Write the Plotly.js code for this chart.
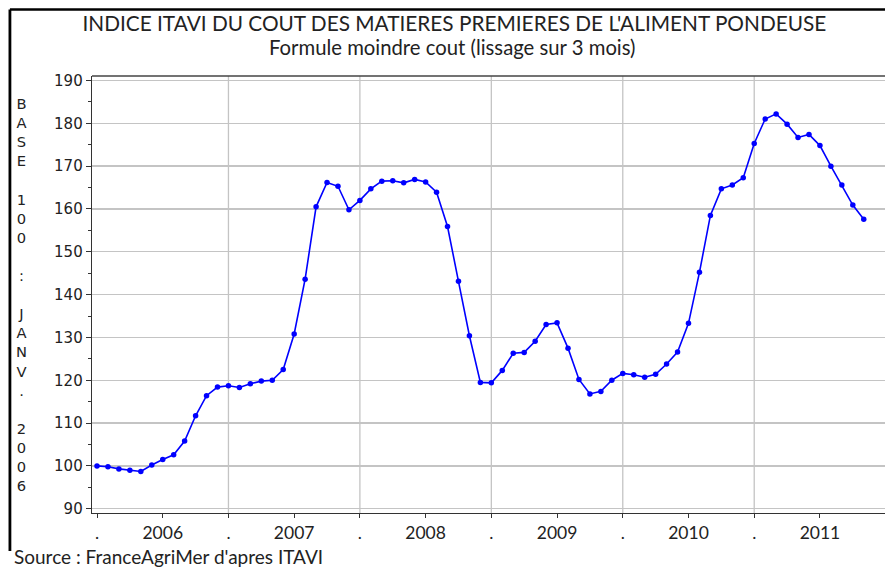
<!DOCTYPE html>
<html>
<head>
<meta charset="utf-8">
<script src="https://cdn.plot.ly/plotly-3.0.1.min.js"></script>
<style>
html,body{margin:0;padding:0;background:#fff;}
#chart{width:885px;height:571px;}
</style>
</head>
<body>
<div id="chart"></div>
<script>
// Monthly index values (base 100 = Jan 2006), one array per year
const years = [2006, 2007, 2008, 2009, 2010, 2011];
const v2006 = [100.0, 99.8, 99.3, 99.0, 98.7, 100.2, 101.5, 102.6, 105.8, 111.7, 116.4, 118.4];
const v2007 = [118.7, 118.3, 119.2, 119.8, 120.0, 122.5, 130.8, 143.6, 160.5, 166.2, 165.3, 159.8];
const v2008 = [162.0, 164.7, 166.5, 166.6, 166.1, 166.9, 166.3, 163.9, 155.9, 143.1, 130.4, 119.5];
const v2009 = [119.4, 122.3, 126.3, 126.5, 129.1, 133.0, 133.4, 127.5, 120.2, 116.8, 117.4, 120.0];
const v2010 = [121.6, 121.3, 120.7, 121.4, 123.8, 126.6, 133.3, 145.2, 158.5, 164.7, 165.6, 167.3];
const v2011 = [175.3, 181.0, 182.2, 179.8, 176.7, 177.4, 174.8, 170.0, 165.6, 160.9, 157.6];

const titleText = "INDICE ITAVI DU COUT DES MATIERES PREMIERES DE L'ALIMENT PONDEUSE";
const subtitleText = "Formule moindre cout (lissage sur 3 mois)";
const yTitleText = "BASE 100 : JANV. 2006";
const sourceText = "Source : FranceAgriMer d'apres ITAVI";

const values = [].concat(v2006, v2007, v2008, v2009, v2010, v2011);
const monthIdx = values.map((_, i) => i);

// x ticks: "." at year starts, year label at mid-year
const tickVals = [];
const tickText = [];
years.forEach((yr, k) => {
  tickVals.push(12 * k); tickText.push('.');
  tickVals.push(12 * k + 6); tickText.push(String(yr));
});
tickVals.push(12 * years.length); tickText.push('.');

const geo = "Lato, 'Open Sans', sans-serif";

const shapes = [];
// vertical gridlines at year boundaries
for (let k = 1; k < years.length; k++) {
  shapes.push({type: 'line', xref: 'x', yref: 'paper', x0: 12 * k, x1: 12 * k, y0: 0, y1: 1,
    line: {color: '#c4c4c4', width: 1.3}, layer: 'below'});
}
// plot top border
shapes.push({type: 'line', xref: 'paper', yref: 'paper', x0: 0, x1: 1, y0: 1, y1: 1,
  line: {color: '#444', width: 1.3}});
// outer frame (top + left)
shapes.push({type: 'line', xref: 'paper', yref: 'paper', x0: -0.1035, x1: 1.01, y0: 1.152, y1: 1.152,
  line: {color: '#000', width: 2.5}});
shapes.push({type: 'line', xref: 'paper', yref: 'paper', x0: -0.1035, x1: -0.1035, y0: 1.152, y1: -0.087,
  line: {color: '#000', width: 2.8}});

const trace = {
  x: monthIdx, y: values, type: 'scatter', mode: 'lines+markers',
  line: {color: '#0000ff', width: 1.6},
  marker: {color: '#0000ff', size: 5.5},
  hoverinfo: 'x+y'
};

const layout = {
  width: 885, height: 571,
  margin: {l: 92, r: 0, t: 76, b: 58, pad: 0},
  paper_bgcolor: '#fff', plot_bgcolor: '#fff',
  showlegend: false,
  title: {
    text: titleText,
    font: {family: geo, size: 20.8, color: '#222'},
    x: 0.457, xref: 'paper', xanchor: 'center',
    y: 1 - 24 / 571, yref: 'container', yanchor: 'middle'
  },
  xaxis: {
    range: [-0.457, 71.94],
    tickmode: 'array', tickvals: tickVals, ticktext: tickText,
    showgrid: false, zeroline: false,
    showline: true, linecolor: '#333', linewidth: 1.3,
    ticks: 'outside', ticklen: 4, tickcolor: '#333', tickwidth: 1,
    tickfont: {family: geo, size: 17.5, color: '#222'},
    fixedrange: true
  },
  yaxis: {
    range: [89.0, 191.05],
    tickmode: 'linear', tick0: 90, dtick: 10,
    showgrid: true, gridcolor: '#c4c4c4', gridwidth: 1.3,
    zeroline: false,
    showline: true, linecolor: '#333', linewidth: 1.3,
    ticks: 'outside', ticklen: 5, tickcolor: '#333', tickwidth: 1,
    minor: {dtick: 5, tick0: 90, ticks: 'outside', ticklen: 3, tickcolor: '#333', showgrid: false},
    tickfont: {family: "'DejaVu Sans', Verdana, sans-serif", size: 15, color: '#222'},
    fixedrange: true
  },
  shapes: shapes,
  annotations: [
    {text: subtitleText, xref: 'paper', yref: 'paper', x: 0.4546, y: 1.0664,
     xanchor: 'center', yanchor: 'middle', showarrow: false,
     font: {family: geo, size: 20.3, color: '#222'}},
    {text: yTitleText.split('').map(c => c === ' ' ? '\u00a0' : c).join('<br>'),
     xref: 'paper', yref: 'paper', x: -0.0883, y: 0.5,
     xanchor: 'center', yanchor: 'middle', showarrow: false, align: 'center',
     font: {family: "'DejaVu Sans', Verdana, sans-serif", size: 14.7, color: '#222'}},
    {text: sourceText, xref: 'paper', yref: 'paper', x: -0.1009, y: -0.1,
     xanchor: 'left', yanchor: 'middle', showarrow: false,
     font: {family: geo, size: 19, color: '#222'}}
  ]
};

Plotly.newPlot('chart', [trace], layout, {displayModeBar: false, staticPlot: true});
</script>
</body>
</html>
